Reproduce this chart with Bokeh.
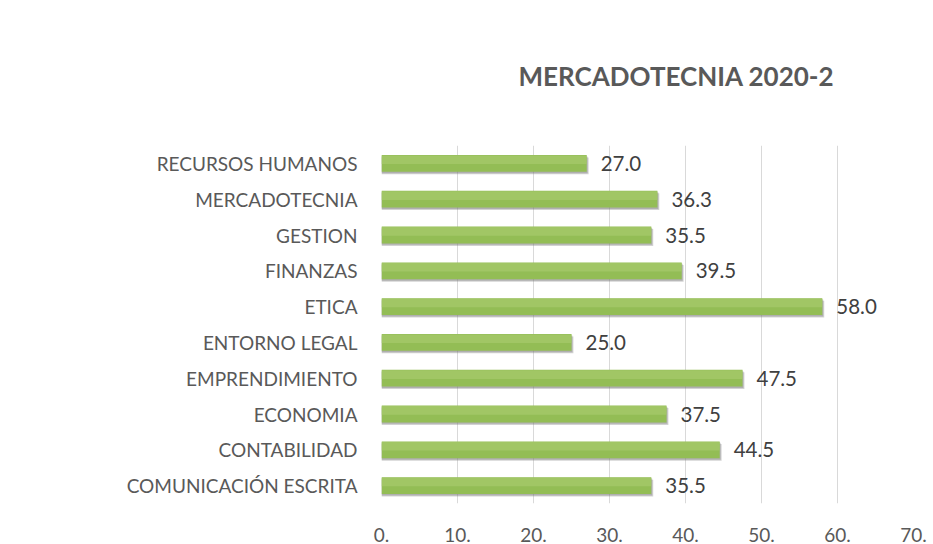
from bokeh.plotting import figure
from bokeh.models import ColumnDataSource, FactorRange, Range1d, FixedTicker
from bokeh.transform import dodge
from bokeh.core.properties import value
from bokeh.embed import file_html
from bokeh.resources import INLINE

# ---- data ----
categories = ["RECURSOS HUMANOS", "MERCADOTECNIA", "GESTION", "FINANZAS", "ETICA",
              "ENTORNO LEGAL", "EMPRENDIMIENTO", "ECONOMIA", "CONTABILIDAD",
              "COMUNICACIÓN ESCRITA"]
scores = [27.0, 36.3, 35.5, 39.5, 58.0, 25.0, 47.5, 37.5, 44.5, 35.5]
x_ticks = [0, 10, 20, 30, 40, 50, 60, 70]
x_tick_labels = ["0.", "10.", "20.", "30.", "40.", "50.", "60.", "70."]
title_text = "MERCADOTECNIA 2020-2"

FONT = "Lato"
TXT = "#595959"
W, H = 933, 544

source = ColumnDataSource(dict(
    cat=categories,
    val=scores,
    lbl=[f"{v:.1f}" for v in scores],
))

p = figure(width=W, height=H, output_backend="svg", toolbar_location=None,
           y_range=FactorRange(factors=list(reversed(categories))),
           x_range=Range1d(0, 70),
           min_border_left=381, min_border_right=20,
           min_border_top=145, min_border_bottom=41)
p.background_fill_color = "white"
p.border_fill_color = "white"
p.outline_line_color = None

# chart title
p.title.text = title_text
p.title.align = "left"
p.title.offset = 137
p.title.standoff = 108
p.title.text_font = FONT
p.title.text_font_size = "26px"
p.title.text_font_style = "bold"
p.title.text_color = TXT

# bar shadow
p.hbar(y=dodge("cat", -0.07, range=p.y_range), right=dodge("val", 0.25), left=0,
       height=0.47, source=source, fill_color="#7f7f7f", fill_alpha=0.35,
       line_color=None)
p.hbar(y=dodge("cat", -0.04, range=p.y_range), right=dodge("val", 0.12), left=0,
       height=0.47, source=source, fill_color="#6f6f6f", fill_alpha=0.35,
       line_color=None)
# bars
p.hbar(y="cat", right="val", left=0, height=0.47, source=source,
       fill_color="#93bd55", line_color=None)
p.hbar(y=dodge("cat", 0.1, range=p.y_range), right="val", left=0, height=0.24,
       source=source, fill_color="#a6cb6c", fill_alpha=0.7, line_color=None)

p.text(x="val", y="cat", text="lbl", source=source, x_offset=14,
       text_baseline="middle", text_align="left",
       text_font=value(FONT), text_font_size="20.5px", text_color="#404040")

p.xaxis.ticker = FixedTicker(ticks=x_ticks)
p.xaxis.major_label_overrides = {t: l for t, l in zip(x_ticks, x_tick_labels)}
for ax in (p.xaxis[0], p.yaxis[0]):
    ax.axis_line_color = None
    ax.major_tick_line_color = None
    ax.minor_tick_line_color = None
    ax.major_label_text_font = FONT
    ax.major_label_text_color = TXT
p.xaxis.major_label_text_font_size = "19px"
p.xaxis.major_label_standoff = 18
p.yaxis.major_label_text_font_size = "19px"
p.yaxis.major_label_standoff = 18
p.xgrid.grid_line_color = "#d9d9d9"
p.ygrid.grid_line_color = None

open("out.html", "w").write(file_html(p, INLINE))
